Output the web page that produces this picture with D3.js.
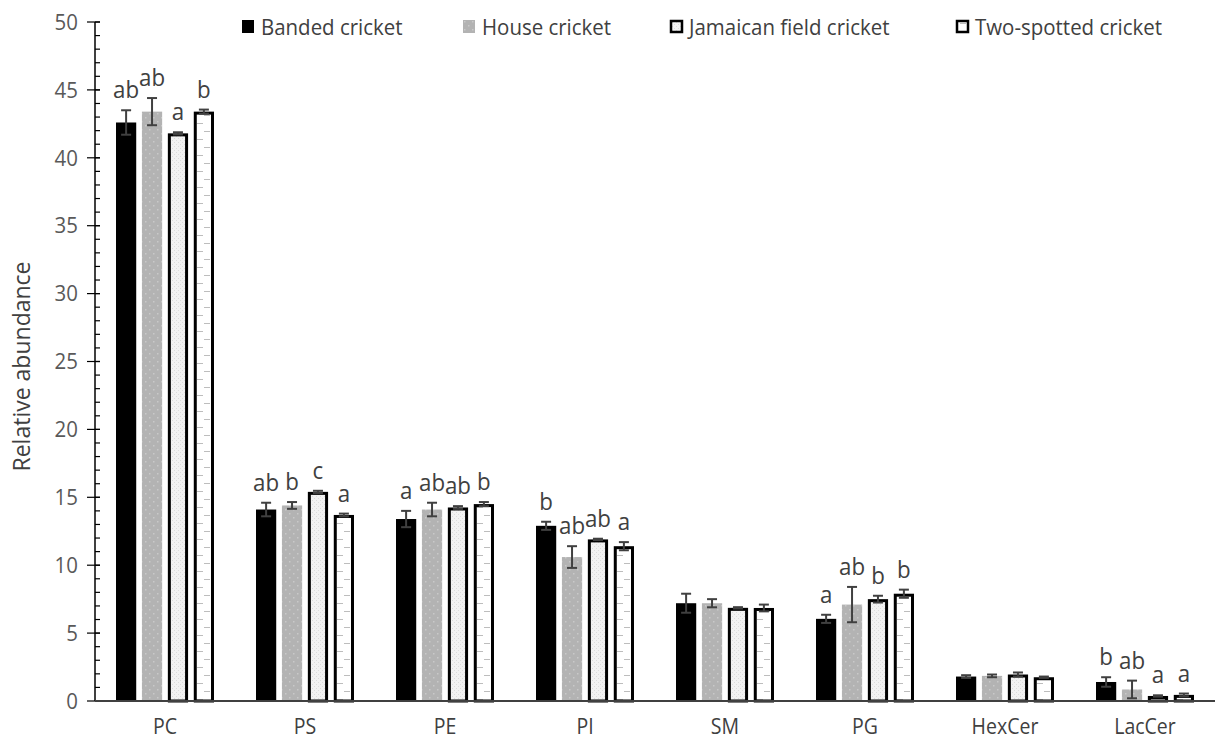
<!DOCTYPE html>
<html>
<head>
<meta charset="utf-8">
<script src="https://cdn.jsdelivr.net/npm/d3@7"></script>
<style>
  html, body { margin: 0; padding: 0; background: #fff; }
  svg { display: block; font-family: "Open Sans", "Noto Sans", sans-serif; }
</style>
</head>
<body>
<svg id="chart" width="1218" height="742"></svg>
<script>
// Lipid classes (x categories)
const categories = ["PC", "PS", "PE", "PI", "SM", "PG", "HexCer", "LacCer"];
const seriesNames = ["Banded cricket", "House cricket", "Jamaican field cricket", "Two-spotted cricket"];

// Mean relative abundance per species
const banded     = [42.6, 14.1, 13.4, 12.9, 7.2, 6.05, 1.8, 1.4];
const house      = [43.4, 14.4, 14.1, 10.6, 7.2, 7.1, 1.85, 0.85];
const jamaican   = [41.8, 15.4, 14.25, 11.9, 6.86, 7.5, 1.95, 0.37];
const twoSpotted = [43.4, 13.7, 14.5, 11.4, 6.85, 7.9, 1.75, 0.45];

// Standard errors
const bandedErr     = [0.9, 0.5, 0.6, 0.3, 0.7, 0.3, 0.1, 0.35];
const houseErr      = [1.0, 0.25, 0.5, 0.8, 0.3, 1.3, 0.1, 0.65];
const jamaicanErr   = [0.08, 0.08, 0.1, 0.05, 0.05, 0.25, 0.15, 0.05];
const twoSpottedErr = [0.15, 0.1, 0.15, 0.3, 0.25, 0.3, 0.05, 0.1];

// Significance letters
const bandedSig     = ["ab", "ab", "a", "b", "", "a", "", "b"];
const houseSig      = ["ab", "b", "ab", "ab", "", "ab", "", "ab"];
const jamaicanSig   = ["a", "c", "ab", "ab", "", "b", "", "a"];
const twoSpottedSig = ["b", "a", "b", "a", "", "b", "", "a"];

// Y axis ticks
const yTicks = [0, 5, 10, 15, 20, 25, 30, 35, 40, 45, 50];

const series = [
  { name: seriesNames[0], values: banded, errs: bandedErr, sig: bandedSig, fill: "#000", stroke: "none" },
  { name: seriesNames[1], values: house, errs: houseErr, sig: houseSig, fill: "url(#patHouse)", stroke: "none" },
  { name: seriesNames[2], values: jamaican, errs: jamaicanErr, sig: jamaicanSig, fill: "url(#patJam)", stroke: "#000" },
  { name: seriesNames[3], values: twoSpotted, errs: twoSpottedErr, sig: twoSpottedSig, fill: "url(#patTwo)", stroke: "#000" }
];

const svg = d3.select("#chart");
const axisColor = "#595959";
const textColor = "#404040";
const squeeze = 0.93; // slightly condensed lettering

// ---- fill patterns ----
const defs = svg.append("defs");
const pH = defs.append("pattern").attr("id", "patHouse").attr("patternUnits", "userSpaceOnUse")
  .attr("width", 8).attr("height", 8);
pH.append("rect").attr("width", 8).attr("height", 8).attr("fill", "#b3b3b3");
pH.append("rect").attr("x", 1).attr("y", 1).attr("width", 1.5).attr("height", 1.5).attr("fill", "#c9c9c9");
pH.append("rect").attr("x", 5).attr("y", 5).attr("width", 1.5).attr("height", 1.5).attr("fill", "#c9c9c9");

const pJ = defs.append("pattern").attr("id", "patJam").attr("patternUnits", "userSpaceOnUse")
  .attr("width", 4).attr("height", 4);
pJ.append("rect").attr("width", 4).attr("height", 4).attr("fill", "#f2f2f2");
pJ.append("rect").attr("x", 0).attr("y", 0).attr("width", 1).attr("height", 1).attr("fill", "#dcdcdc");
pJ.append("rect").attr("x", 2).attr("y", 2).attr("width", 1).attr("height", 1).attr("fill", "#dcdcdc");

const pT = defs.append("pattern").attr("id", "patTwo").attr("patternUnits", "userSpaceOnUse")
  .attr("width", 14).attr("height", 16);
pT.append("rect").attr("width", 14).attr("height", 16).attr("fill", "#fff");
pT.append("rect").attr("x", 4).attr("y", 3).attr("width", 6).attr("height", 1).attr("fill", "#bdbdbd");
pT.append("rect").attr("x", 0).attr("y", 11).attr("width", 3).attr("height", 1).attr("fill", "#bdbdbd");
pT.append("rect").attr("x", 11).attr("y", 11).attr("width", 3).attr("height", 1).attr("fill", "#bdbdbd");

// ---- scales ----
const x0 = d3.scaleBand().domain(categories).range([95, 1215]).paddingInner(0).paddingOuter(0);
const groupW = 98;
const x1 = d3.scaleBand().domain(seriesNames).range([0, groupW]).paddingInner(0.22);
const y = d3.scaleLinear().domain([0, 50]).range([701, 22]);

// ---- y axis ----
const yAxisG = svg.append("g").attr("transform", `translate(${x0.range()[0]},0)`);
yAxisG.append("line").attr("x1", 0).attr("x2", 0).attr("y1", y(0)).attr("y2", y(50))
  .attr("stroke", "#000").attr("stroke-width", 1.5);
// minor ticks, one per unit
yAxisG.selectAll("line.minor").data(d3.range(0, 51)).join("line").attr("class", "minor")
  .attr("x1", 0).attr("x2", 5).attr("y1", d => y(d)).attr("y2", d => y(d))
  .attr("stroke", "#000").attr("stroke-width", 1.2);
yAxisG.selectAll("line.major").data(yTicks).join("line").attr("class", "major")
  .attr("x1", -8).attr("x2", 5).attr("y1", d => y(d)).attr("y2", d => y(d))
  .attr("stroke", "#000").attr("stroke-width", 1.2);
yAxisG.selectAll("text.tick").data(yTicks).join("text").attr("class", "tick")
  .attr("transform", d => `translate(-17,${y(d)}) scale(${squeeze},1)`)
  .attr("dy", "0.35em")
  .attr("text-anchor", "end").attr("font-size", 22).attr("fill", axisColor)
  .text(d => d);

svg.append("text")
  .attr("transform", `translate(30,${(y(0) + y(50)) / 2 + 5}) rotate(-90)`)
  .attr("text-anchor", "middle").attr("font-size", 23).attr("fill", textColor)
  .text("Relative abundance");

// ---- bars ----
const groups = svg.append("g").selectAll("g.cat").data(categories).join("g").attr("class", "cat")
  .attr("transform", d => `translate(${x0(d) + (x0.bandwidth() - groupW) / 2},0)`);

series.forEach(s => {
  const bw = x1.bandwidth();
  const inset = s.stroke === "none" ? 0 : 1.5;
  groups.append("rect")
    .attr("x", () => x1(s.name) + inset)
    .attr("y", (d, i) => y(s.values[i]) + inset)
    .attr("width", bw - 2 * inset)
    .attr("height", (d, i) => Math.max(0, y(0) - y(s.values[i]) - inset))
    .attr("fill", s.fill)
    .attr("stroke", s.stroke)
    .attr("stroke-width", s.stroke === "none" ? 0 : 3);
});

// ---- error bars ----
series.forEach(s => {
  const cx = x1(s.name) + x1.bandwidth() / 2;
  const eg = groups.append("g").attr("stroke", "#404040").attr("stroke-width", 2);
  eg.append("line").attr("x1", cx).attr("x2", cx)
    .attr("y1", (d, i) => y(s.values[i] + s.errs[i])).attr("y2", (d, i) => y(s.values[i] - s.errs[i]));
  eg.append("line").attr("x1", cx - 5).attr("x2", cx + 5)
    .attr("y1", (d, i) => y(s.values[i] + s.errs[i])).attr("y2", (d, i) => y(s.values[i] + s.errs[i]));
  eg.append("line").attr("x1", cx - 5).attr("x2", cx + 5)
    .attr("y1", (d, i) => y(s.values[i] - s.errs[i])).attr("y2", (d, i) => y(s.values[i] - s.errs[i]));
});

// ---- significance letters ----
series.forEach(s => {
  const cx = x1(s.name) + x1.bandwidth() / 2;
  groups.append("text")
    .attr("transform", (d, i) => `translate(${cx},${y(s.values[i] + s.errs[i]) - 12}) scale(${squeeze},1)`)
    .attr("text-anchor", "middle").attr("font-size", 24).attr("fill", textColor)
    .text((d, i) => s.sig[i]);
});

// ---- x axis ----
svg.append("line").attr("x1", x0.range()[0]).attr("x2", x0.range()[1])
  .attr("y1", y(0)).attr("y2", y(0)).attr("stroke", "#404040").attr("stroke-width", 2);
svg.append("g").selectAll("text").data(categories).join("text")
  .attr("transform", d => `translate(${x0(d) + x0.bandwidth() / 2},734) scale(${squeeze},1)`)
  .attr("text-anchor", "middle").attr("font-size", 21).attr("fill", textColor)
  .text(d => d);

// ---- legend ----
const legendX = [242, 463, 670, 956];
const legend = svg.append("g").selectAll("g").data(series).join("g")
  .attr("transform", (d, i) => `translate(${legendX[i]},20)`);
legend.append("rect")
  .attr("x", d => d.stroke === "none" ? 0 : 1)
  .attr("y", d => d.stroke === "none" ? 0 : 1)
  .attr("width", d => d.stroke === "none" ? 12 : 11)
  .attr("height", d => d.stroke === "none" ? 13 : 11)
  .attr("fill", d => d.fill).attr("stroke", d => d.stroke)
  .attr("stroke-width", d => d.stroke === "none" ? 0 : 2.5);
legend.append("text")
  .attr("transform", `translate(19,14.5) scale(${squeeze},1)`)
  .attr("font-size", 22).attr("fill", textColor)
  .text(d => d.name);
</script>
</body>
</html>
